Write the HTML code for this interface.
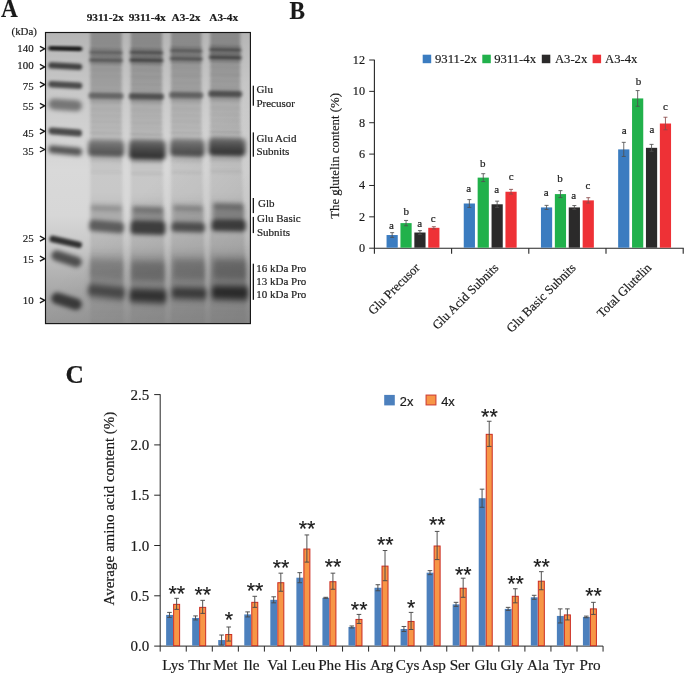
<!DOCTYPE html>
<html lang="en"><head><meta charset="utf-8"><title>Figure</title>
<style>html,body{margin:0;padding:0;background:#fff;}svg{display:block;}text{font-family:"Liberation Serif",serif;fill:#1a1a1a;stroke:#1a1a1a;stroke-width:0.18px;}.sans{font-family:"Liberation Sans",sans-serif;}</style>
</head><body>
<svg width="685" height="675" viewBox="0 0 685 675">
<rect width="685" height="675" fill="#fff"/>
<defs>
<clipPath id="gc"><rect x="45.0" y="32.0" width="205.9" height="292.1"/></clipPath>
<filter id="f1" filterUnits="userSpaceOnUse" x="20" y="10" width="260" height="340"><feGaussianBlur stdDeviation="1.6 1.0"/></filter>
<filter id="f2" filterUnits="userSpaceOnUse" x="20" y="10" width="260" height="340"><feGaussianBlur stdDeviation="1.8 1.4"/></filter>
<filter id="f3" filterUnits="userSpaceOnUse" x="20" y="10" width="260" height="340"><feGaussianBlur stdDeviation="2.0 2.2"/></filter>
<filter id="f4" filterUnits="userSpaceOnUse" x="20" y="10" width="260" height="340"><feGaussianBlur stdDeviation="2.4 3.0"/></filter>
<filter id="fl" filterUnits="userSpaceOnUse" x="20" y="10" width="260" height="340"><feGaussianBlur stdDeviation="1.7 3.0"/></filter>
<linearGradient id="bgv" gradientUnits="userSpaceOnUse" x1="0" y1="32.0" x2="0" y2="324.1">
<stop offset="0.0000" stop-color="#b5b5b5"/>
<stop offset="0.0959" stop-color="#bfbfbf"/>
<stop offset="0.2670" stop-color="#cdcdcd"/>
<stop offset="0.4724" stop-color="#d9d9d9"/>
<stop offset="0.6265" stop-color="#d7d7d7"/>
<stop offset="0.7292" stop-color="#c9c9c9"/>
<stop offset="0.8148" stop-color="#b5b5b5"/>
<stop offset="0.9175" stop-color="#a3a3a3"/>
<stop offset="0.9997" stop-color="#999999"/>
</linearGradient>
<linearGradient id="lg" gradientUnits="userSpaceOnUse" x1="0" y1="32.0" x2="0" y2="324.1">
<stop offset="0.0000" stop-color="#000" stop-opacity="0.24"/>
<stop offset="0.0514" stop-color="#000" stop-opacity="0.27"/>
<stop offset="0.1096" stop-color="#000" stop-opacity="0.22"/>
<stop offset="0.1986" stop-color="#000" stop-opacity="0.2"/>
<stop offset="0.2328" stop-color="#000" stop-opacity="0.15"/>
<stop offset="0.3423" stop-color="#000" stop-opacity="0.13"/>
<stop offset="0.3595" stop-color="#000" stop-opacity="0.1"/>
<stop offset="0.4382" stop-color="#000" stop-opacity="0.1"/>
<stop offset="0.4896" stop-color="#000" stop-opacity="0.08"/>
<stop offset="0.5615" stop-color="#000" stop-opacity="0.08"/>
<stop offset="0.5888" stop-color="#000" stop-opacity="0.13"/>
<stop offset="0.6984" stop-color="#000" stop-opacity="0.1"/>
<stop offset="0.7463" stop-color="#000" stop-opacity="0.1"/>
<stop offset="0.7737" stop-color="#000" stop-opacity="0.18"/>
<stop offset="0.8559" stop-color="#000" stop-opacity="0.18"/>
<stop offset="0.9038" stop-color="#000" stop-opacity="0.12"/>
<stop offset="0.9380" stop-color="#000" stop-opacity="0.06"/>
<stop offset="0.9997" stop-color="#000" stop-opacity="0.04"/>
</linearGradient>
<linearGradient id="ag" x1="0" y1="0" x2="0" y2="1"><stop offset="0" stop-color="#000" stop-opacity=".50"/><stop offset=".45" stop-color="#000" stop-opacity=".78"/><stop offset="1" stop-color="#000" stop-opacity="1"/></linearGradient>
<linearGradient id="dg" gradientUnits="userSpaceOnUse" x1="120" y1="215" x2="235" y2="324"><stop offset="0" stop-color="#000" stop-opacity="0"/><stop offset="1" stop-color="#000" stop-opacity=".13"/></linearGradient>
</defs>
<g clip-path="url(#gc)">
<rect x="45.0" y="32.0" width="205.9" height="292.1" fill="url(#bgv)"/>
<rect x="45.0" y="32.0" width="205.9" height="292.1" fill="url(#dg)"/>
<g filter="url(#fl)">
<path d="M90.3,22.0 L121.7,22.0 L121.7,120 L123.5,292 L123.5,334.1 L90.3,334.1 Z" fill="url(#lg)" opacity="0.94"/>
<path d="M130.7,22.0 L162.1,22.0 L162.1,120 L164.9,292 L164.9,334.1 L130.7,334.1 Z" fill="url(#lg)" opacity="1.00"/>
<path d="M171.0,22.0 L201.4,22.0 L201.4,120 L205.1,292 L205.1,334.1 L171.0,334.1 Z" fill="url(#lg)" opacity="0.97"/>
<path d="M210.2,22.0 L240.3,22.0 L240.3,120 L246.3,292 L246.3,334.1 L210.2,334.1 Z" fill="url(#lg)" opacity="1.00"/>
</g>
<g filter="url(#f1)">
<rect x="89.5" y="48.1" width="33.0" height="1.3" rx="0.7" fill="#000" opacity="0.13" transform="rotate(1.04 106.0 48.8)"/>
<rect x="129.9" y="48.1" width="33.0" height="1.3" rx="0.7" fill="#000" opacity="0.17" transform="rotate(1.04 146.4 48.8)"/>
<rect x="170.2" y="46.4" width="32.0" height="1.3" rx="0.7" fill="#000" opacity="0.14" transform="rotate(1.07 186.2 47.0)"/>
<rect x="209.4" y="45.4" width="31.7" height="1.3" rx="0.7" fill="#000" opacity="0.17" transform="rotate(1.08 225.2 46.0)"/>
<rect x="89.3" y="55.6" width="33.4" height="1.5" rx="0.8" fill="#000" opacity="0.21" transform="rotate(1.03 106.0 56.4)"/>
<rect x="129.7" y="55.7" width="33.4" height="1.5" rx="0.8" fill="#000" opacity="0.28" transform="rotate(1.03 146.4 56.5)"/>
<rect x="170.0" y="54.0" width="32.4" height="1.5" rx="0.8" fill="#000" opacity="0.23" transform="rotate(1.06 186.2 54.8)"/>
<rect x="209.2" y="53.0" width="32.1" height="1.5" rx="0.8" fill="#000" opacity="0.28" transform="rotate(1.07 225.2 53.7)"/>
<rect x="89.5" y="63.5" width="33.0" height="1.5" rx="0.8" fill="#000" opacity="0.12" transform="rotate(1.04 106.0 64.2)"/>
<rect x="129.9" y="63.6" width="33.0" height="1.5" rx="0.8" fill="#000" opacity="0.16" transform="rotate(1.04 146.4 64.4)"/>
<rect x="170.2" y="62.0" width="32.0" height="1.5" rx="0.8" fill="#000" opacity="0.13" transform="rotate(1.07 186.2 62.8)"/>
<rect x="209.4" y="60.9" width="31.7" height="1.5" rx="0.8" fill="#000" opacity="0.16" transform="rotate(1.08 225.2 61.7)"/>
<rect x="89.5" y="132.4" width="33.1" height="1.8" rx="0.9" fill="#000" opacity="0.08" transform="rotate(1.04 106.1 133.3)"/>
<rect x="129.9" y="133.4" width="33.2" height="1.8" rx="0.9" fill="#000" opacity="0.10" transform="rotate(1.03 146.5 134.3)"/>
<rect x="170.2" y="132.2" width="32.3" height="1.8" rx="0.9" fill="#000" opacity="0.08" transform="rotate(1.06 186.3 133.1)"/>
<rect x="209.4" y="131.3" width="32.2" height="1.8" rx="0.9" fill="#000" opacity="0.10" transform="rotate(1.07 225.5 132.2)"/>
</g>
<g filter="url(#f2)">
<rect x="88.9" y="50.7" width="34.2" height="3.8" rx="1.9" fill="#000" opacity="0.36" transform="rotate(1.01 106.0 52.6)"/>
<rect x="129.3" y="50.7" width="34.2" height="3.8" rx="1.9" fill="#000" opacity="0.48" transform="rotate(1.01 146.4 52.6)"/>
<rect x="169.6" y="49.0" width="33.2" height="3.8" rx="1.9" fill="#000" opacity="0.39" transform="rotate(1.04 186.2 50.9)"/>
<rect x="208.8" y="48.0" width="32.9" height="3.8" rx="1.9" fill="#000" opacity="0.47" transform="rotate(1.04 225.2 49.9)"/>
<rect x="88.7" y="58.2" width="34.6" height="4.0" rx="2.0" fill="#000" opacity="0.43" transform="rotate(0.99 106.0 60.2)"/>
<rect x="129.1" y="58.3" width="34.6" height="4.0" rx="2.0" fill="#000" opacity="0.57" transform="rotate(0.99 146.4 60.3)"/>
<rect x="169.4" y="56.7" width="33.6" height="4.0" rx="2.0" fill="#000" opacity="0.46" transform="rotate(1.02 186.2 58.7)"/>
<rect x="208.6" y="55.6" width="33.3" height="4.0" rx="2.0" fill="#000" opacity="0.56" transform="rotate(1.03 225.2 57.6)"/>
<rect x="89.8" y="69.2" width="32.4" height="1.6" rx="0.8" fill="#000" opacity="0.03" transform="rotate(1.06 106.0 70.0)"/>
<rect x="130.2" y="69.5" width="32.4" height="1.6" rx="0.8" fill="#000" opacity="0.04" transform="rotate(1.06 146.4 70.3)"/>
<rect x="170.5" y="67.9" width="31.4" height="1.6" rx="0.8" fill="#000" opacity="0.03" transform="rotate(1.09 186.2 68.7)"/>
<rect x="209.7" y="66.8" width="31.1" height="1.6" rx="0.8" fill="#000" opacity="0.04" transform="rotate(1.11 225.2 67.6)"/>
<rect x="89.8" y="76.1" width="32.4" height="1.8" rx="0.9" fill="#000" opacity="0.04" transform="rotate(1.06 106.0 77.0)"/>
<rect x="130.2" y="76.5" width="32.4" height="1.8" rx="0.9" fill="#000" opacity="0.06" transform="rotate(1.06 146.4 77.4)"/>
<rect x="170.5" y="75.0" width="31.4" height="1.8" rx="0.9" fill="#000" opacity="0.05" transform="rotate(1.09 186.2 75.9)"/>
<rect x="209.7" y="73.8" width="31.1" height="1.8" rx="0.9" fill="#000" opacity="0.06" transform="rotate(1.11 225.2 74.7)"/>
<rect x="89.8" y="83.1" width="32.4" height="1.8" rx="0.9" fill="#000" opacity="0.03" transform="rotate(1.06 106.0 84.0)"/>
<rect x="130.2" y="83.5" width="32.4" height="1.8" rx="0.9" fill="#000" opacity="0.05" transform="rotate(1.06 146.4 84.4)"/>
<rect x="170.5" y="82.2" width="31.4" height="1.8" rx="0.9" fill="#000" opacity="0.04" transform="rotate(1.09 186.2 83.1)"/>
<rect x="209.7" y="81.0" width="31.1" height="1.8" rx="0.9" fill="#000" opacity="0.04" transform="rotate(1.11 225.2 81.9)"/>
<rect x="89.8" y="88.6" width="32.4" height="1.8" rx="0.9" fill="#000" opacity="0.04" transform="rotate(1.06 106.0 89.5)"/>
<rect x="130.2" y="89.1" width="32.4" height="1.8" rx="0.9" fill="#000" opacity="0.06" transform="rotate(1.06 146.4 90.0)"/>
<rect x="170.5" y="87.8" width="31.4" height="1.8" rx="0.9" fill="#000" opacity="0.05" transform="rotate(1.09 186.2 88.7)"/>
<rect x="209.7" y="86.6" width="31.1" height="1.8" rx="0.9" fill="#000" opacity="0.06" transform="rotate(1.11 225.2 87.5)"/>
<rect x="88.3" y="92.7" width="35.4" height="6.4" rx="2.5" fill="#000" opacity="0.40" transform="rotate(0.97 106.0 95.9)"/>
<rect x="128.7" y="93.3" width="35.4" height="6.4" rx="2.5" fill="#000" opacity="0.52" transform="rotate(0.97 146.4 96.5)"/>
<rect x="169.0" y="92.1" width="34.4" height="6.4" rx="2.5" fill="#000" opacity="0.42" transform="rotate(1.00 186.2 95.3)"/>
<rect x="208.2" y="90.8" width="34.1" height="6.4" rx="2.5" fill="#000" opacity="0.52" transform="rotate(1.01 225.2 94.0)"/>
<rect x="89.5" y="100.2" width="33.0" height="2.5" rx="1.2" fill="#000" opacity="0.10" transform="rotate(1.04 106.0 101.5)"/>
<rect x="129.9" y="100.9" width="33.0" height="2.5" rx="1.2" fill="#000" opacity="0.14" transform="rotate(1.04 146.4 102.2)"/>
<rect x="170.2" y="99.7" width="32.0" height="2.5" rx="1.2" fill="#000" opacity="0.11" transform="rotate(1.07 186.2 101.0)"/>
<rect x="209.4" y="98.5" width="31.7" height="2.5" rx="1.2" fill="#000" opacity="0.13" transform="rotate(1.08 225.2 99.7)"/>
<rect x="89.8" y="109.1" width="32.4" height="1.8" rx="0.9" fill="#000" opacity="0.03" transform="rotate(1.06 106.0 110.0)"/>
<rect x="130.2" y="109.9" width="32.4" height="1.8" rx="0.9" fill="#000" opacity="0.04" transform="rotate(1.06 146.4 110.8)"/>
<rect x="170.5" y="108.7" width="31.4" height="1.8" rx="0.9" fill="#000" opacity="0.03" transform="rotate(1.09 186.2 109.6)"/>
<rect x="209.7" y="107.5" width="31.1" height="1.8" rx="0.9" fill="#000" opacity="0.04" transform="rotate(1.11 225.2 108.4)"/>
<rect x="89.8" y="115.1" width="32.4" height="1.8" rx="0.9" fill="#000" opacity="0.03" transform="rotate(1.06 106.0 116.0)"/>
<rect x="130.2" y="115.9" width="32.4" height="1.8" rx="0.9" fill="#000" opacity="0.04" transform="rotate(1.06 146.4 116.8)"/>
<rect x="170.5" y="114.7" width="31.4" height="1.8" rx="0.9" fill="#000" opacity="0.03" transform="rotate(1.09 186.2 115.6)"/>
<rect x="209.7" y="113.6" width="31.1" height="1.8" rx="0.9" fill="#000" opacity="0.04" transform="rotate(1.11 225.2 114.5)"/>
<rect x="89.8" y="121.1" width="32.4" height="1.8" rx="0.9" fill="#000" opacity="0.03" transform="rotate(1.06 106.0 122.0)"/>
<rect x="130.2" y="122.0" width="32.4" height="1.8" rx="0.9" fill="#000" opacity="0.05" transform="rotate(1.06 146.4 122.9)"/>
<rect x="170.5" y="120.8" width="31.4" height="1.8" rx="0.9" fill="#000" opacity="0.04" transform="rotate(1.09 186.2 121.7)"/>
<rect x="209.7" y="119.8" width="31.2" height="1.8" rx="0.9" fill="#000" opacity="0.04" transform="rotate(1.10 225.3 120.7)"/>
<rect x="89.8" y="127.1" width="32.5" height="1.8" rx="0.9" fill="#000" opacity="0.03" transform="rotate(1.06 106.0 128.0)"/>
<rect x="130.2" y="128.1" width="32.5" height="1.8" rx="0.9" fill="#000" opacity="0.04" transform="rotate(1.06 146.5 129.0)"/>
<rect x="170.5" y="126.9" width="31.6" height="1.8" rx="0.9" fill="#000" opacity="0.03" transform="rotate(1.09 186.3 127.8)"/>
<rect x="209.7" y="125.9" width="31.4" height="1.8" rx="0.9" fill="#000" opacity="0.04" transform="rotate(1.10 225.4 126.8)"/>
<rect x="90.0" y="159.8" width="32.4" height="1.6" rx="0.8" fill="#000" opacity="0.10" transform="rotate(1.06 106.2 160.6)"/>
<rect x="130.4" y="161.1" width="32.7" height="1.6" rx="0.8" fill="#000" opacity="0.14" transform="rotate(1.05 146.7 161.9)"/>
<rect x="170.7" y="160.0" width="31.9" height="1.6" rx="0.8" fill="#000" opacity="0.11" transform="rotate(1.08 186.6 160.8)"/>
<rect x="209.9" y="159.1" width="32.1" height="1.6" rx="0.8" fill="#000" opacity="0.13" transform="rotate(1.07 226.0 159.9)"/>
<rect x="90.3" y="170.8" width="31.9" height="2.5" rx="1.2" fill="#000" opacity="0.04" transform="rotate(1.08 106.3 172.0)"/>
<rect x="130.7" y="172.2" width="32.2" height="2.5" rx="1.2" fill="#000" opacity="0.06" transform="rotate(1.07 146.8 173.5)"/>
<rect x="171.0" y="171.2" width="31.5" height="2.5" rx="1.2" fill="#000" opacity="0.05" transform="rotate(1.09 186.8 172.4)"/>
<rect x="210.2" y="170.2" width="31.9" height="2.5" rx="1.2" fill="#000" opacity="0.06" transform="rotate(1.08 226.2 171.5)"/>
</g>
<g filter="url(#f3)">
<rect x="87.8" y="139.5" width="36.7" height="17.1" rx="4.5" fill="url(#ag)" opacity="0.60" transform="rotate(1.25 106.2 148.1)"/>
<rect x="128.9" y="139.5" width="37.0" height="20.2" rx="4.5" fill="url(#ag)" opacity="0.78" transform="rotate(1.24 147.4 149.6)"/>
<rect x="170.1" y="138.8" width="34.8" height="17.8" rx="4.5" fill="url(#ag)" opacity="0.64" transform="rotate(1.32 187.5 147.7)"/>
<rect x="208.6" y="137.6" width="37.1" height="18.4" rx="4.5" fill="url(#ag)" opacity="0.76" transform="rotate(1.24 227.2 146.8)"/>
<rect x="90.5" y="205.1" width="31.7" height="5.2" rx="2.5" fill="#000" opacity="0.22" transform="rotate(1.45 106.3 207.7)"/>
<rect x="90.5" y="208.7" width="32.2" height="13.7" rx="2.5" fill="#000" opacity="0.10" transform="rotate(1.42 106.6 215.6)"/>
<rect x="89.0" y="221.1" width="35.2" height="11.0" rx="4.0" fill="#000" opacity="0.50" transform="rotate(4.87 106.6 226.6)"/>
<rect x="132.0" y="206.4" width="31.6" height="5.2" rx="2.5" fill="#000" opacity="0.34" transform="rotate(1.45 147.8 209.0)"/>
<rect x="132.0" y="210.0" width="32.1" height="12.4" rx="2.5" fill="#000" opacity="0.26" transform="rotate(1.43 148.1 216.2)"/>
<rect x="130.5" y="221.1" width="35.1" height="13.5" rx="4.0" fill="#000" opacity="0.66" transform="rotate(1.63 148.1 227.9)"/>
<rect x="172.8" y="205.1" width="30.4" height="5.2" rx="2.5" fill="#000" opacity="0.26" transform="rotate(1.51 188.0 207.7)"/>
<rect x="172.8" y="208.7" width="30.9" height="15.0" rx="2.5" fill="#000" opacity="0.14" transform="rotate(1.48 188.2 216.2)"/>
<rect x="171.3" y="222.4" width="33.9" height="9.7" rx="4.0" fill="#000" opacity="0.56" transform="rotate(1.35 188.2 227.2)"/>
<rect x="213.0" y="203.2" width="31.0" height="5.2" rx="2.5" fill="#000" opacity="0.36" transform="rotate(1.48 228.5 205.8)"/>
<rect x="213.0" y="206.8" width="31.5" height="14.4" rx="2.5" fill="#000" opacity="0.28" transform="rotate(1.45 228.8 214.0)"/>
<rect x="211.5" y="219.9" width="34.5" height="11.4" rx="4.0" fill="#000" opacity="0.66" transform="rotate(0.83 228.8 225.6)"/>
</g>
<g filter="url(#f4)">
<rect x="89.0" y="259.5" width="34.6" height="20.0" rx="3.0" fill="#000" opacity="0.16" transform="rotate(3.31 106.3 269.5)"/>
<rect x="87.5" y="285.5" width="37.6" height="12.2" rx="4.0" fill="#000" opacity="0.50" transform="rotate(6.07 106.3 291.6)"/>
<rect x="131.0" y="261.0" width="34.0" height="20.0" rx="3.0" fill="#000" opacity="0.24" transform="rotate(1.26 148.0 271.0)"/>
<rect x="129.5" y="289.0" width="37.0" height="13.7" rx="4.0" fill="#000" opacity="0.64" transform="rotate(2.32 148.0 295.9)"/>
<rect x="173.1" y="259.5" width="32.1" height="20.0" rx="3.0" fill="#000" opacity="0.20" transform="rotate(0.89 189.2 269.5)"/>
<rect x="171.6" y="287.7" width="35.1" height="11.2" rx="4.0" fill="#000" opacity="0.58" transform="rotate(1.63 189.2 293.3)"/>
<rect x="213.2" y="259.5" width="33.5" height="20.0" rx="3.0" fill="#000" opacity="0.26" transform="rotate(0.68 229.9 269.5)"/>
<rect x="211.7" y="285.8" width="36.5" height="13.8" rx="4.0" fill="#000" opacity="0.68" transform="rotate(1.26 229.9 292.7)"/>
</g>
<g filter="url(#f1)">
<rect transform="translate(48.3,48.2) rotate(1.18)" x="0" y="-2.30" width="34.0" height="4.6" rx="2.3" fill="#000" opacity="0.84"/>
</g>
<g filter="url(#f2)">
<rect transform="translate(48.3,65.2) rotate(3.03)" x="0" y="-3.20" width="34.0" height="6.4" rx="3.2" fill="#000" opacity="0.66"/>
<rect transform="translate(48.3,84.0) rotate(3.37)" x="0" y="-3.20" width="34.1" height="6.4" rx="3.2" fill="#000" opacity="0.62"/>
<rect transform="translate(48.5,130.6) rotate(4.78)" x="0" y="-3.50" width="33.6" height="7.0" rx="3.5" fill="#000" opacity="0.64"/>
<rect transform="translate(49.5,238.2) rotate(12.83)" x="0" y="-3.30" width="33.3" height="6.6" rx="3.3" fill="#000" opacity="0.76"/>
</g>
<g filter="url(#f3)">
<rect transform="translate(48.5,103.8) rotate(4.10)" x="0" y="-5.50" width="33.6" height="11" rx="5.5" fill="#000" opacity="0.42"/>
<rect transform="translate(48.5,149.0) rotate(5.46)" x="0" y="-4.00" width="33.7" height="8.0" rx="4.0" fill="#000" opacity="0.6"/>
<rect transform="translate(51.5,254.0) rotate(17.57)" x="0" y="-5.25" width="31.5" height="10.5" rx="5.2" fill="#000" opacity="0.58"/>
<rect transform="translate(51.5,296.5) rotate(17.57)" x="0" y="-5.75" width="31.5" height="11.5" rx="5.8" fill="#000" opacity="0.64"/>
</g>
</g>
<rect x="45.5" y="32.5" width="204.9" height="291.1" fill="none" stroke="#161616" stroke-width="1.15"/>
<text transform="translate(0.9,17.0) scale(0.945,1)" font-size="24.6" font-weight="bold" stroke="none" fill="#222">A</text>
<text transform="translate(289.4,18.6) scale(0.915,1)" font-size="25.4" font-weight="bold" stroke="none" fill="#222">B</text>
<text transform="translate(65.6,382.8) scale(1.0,1)" font-size="25.4" font-weight="bold" stroke="none" fill="#222">C</text>
<text x="105.2" y="20.9" font-size="11.3" font-weight="bold" text-anchor="middle" stroke="none">9311-2x</text>
<text x="147.2" y="20.9" font-size="11.3" font-weight="bold" text-anchor="middle" stroke="none">9311-4x</text>
<text x="186.0" y="20.9" font-size="11.3" font-weight="bold" text-anchor="middle" stroke="none">A3-2x</text>
<text x="223.7" y="20.9" font-size="11.3" font-weight="bold" text-anchor="middle" stroke="none">A3-4x</text>
<text x="11.5" y="35.2" font-size="10.9">(kDa)</text>
<text x="33.7" y="52.3" font-size="10.9" text-anchor="end">140</text>
<path d="M39.9,46.3 L44.7,48.8 L39.9,51.3" fill="none" stroke="#1a1a1a" stroke-width="1.35" stroke-linejoin="miter"/>
<text x="33.7" y="69" font-size="10.9" text-anchor="end">100</text>
<path d="M39.9,64.4 L44.7,66.9 L39.9,69.4" fill="none" stroke="#1a1a1a" stroke-width="1.35" stroke-linejoin="miter"/>
<text x="33.7" y="89.6" font-size="10.9" text-anchor="end">75</text>
<path d="M39.9,82.1 L44.7,84.6 L39.9,87.1" fill="none" stroke="#1a1a1a" stroke-width="1.35" stroke-linejoin="miter"/>
<text x="33.7" y="109.6" font-size="10.9" text-anchor="end">55</text>
<path d="M39.9,103.3 L44.7,105.8 L39.9,108.3" fill="none" stroke="#1a1a1a" stroke-width="1.35" stroke-linejoin="miter"/>
<text x="33.7" y="136.7" font-size="10.9" text-anchor="end">45</text>
<path d="M39.9,128.8 L44.7,131.3 L39.9,133.8" fill="none" stroke="#1a1a1a" stroke-width="1.35" stroke-linejoin="miter"/>
<text x="33.7" y="154.7" font-size="10.9" text-anchor="end">35</text>
<path d="M39.9,147.0 L44.7,149.5 L39.9,152.0" fill="none" stroke="#1a1a1a" stroke-width="1.35" stroke-linejoin="miter"/>
<text x="33.7" y="242.1" font-size="10.9" text-anchor="end">25</text>
<path d="M39.9,236.2 L44.7,238.7 L39.9,241.2" fill="none" stroke="#1a1a1a" stroke-width="1.35" stroke-linejoin="miter"/>
<text x="33.7" y="263.4" font-size="10.9" text-anchor="end">15</text>
<path d="M39.9,256.2 L44.7,258.7 L39.9,261.2" fill="none" stroke="#1a1a1a" stroke-width="1.35" stroke-linejoin="miter"/>
<text x="33.7" y="304.3" font-size="10.9" text-anchor="end">10</text>
<path d="M39.9,297.8 L44.7,300.3 L39.9,302.8" fill="none" stroke="#1a1a1a" stroke-width="1.35" stroke-linejoin="miter"/>
<rect x="252.7" y="85.7" width="1.3" height="20.0" fill="#1a1a1a"/>
<rect x="252.7" y="132.4" width="1.3" height="24.299999999999983" fill="#1a1a1a"/>
<rect x="252.7" y="198" width="1.3" height="15.099999999999994" fill="#1a1a1a"/>
<rect x="252.7" y="216.9" width="1.3" height="16.19999999999999" fill="#1a1a1a"/>
<rect x="252.7" y="263.7" width="1.3" height="36.10000000000002" fill="#1a1a1a"/>
<text x="256.4" y="93.3" font-size="11">Glu</text>
<text x="256.4" y="106.7" font-size="11">Precusor</text>
<text x="256.4" y="141.6" font-size="11">Glu Acid</text>
<text x="256.4" y="154.9" font-size="11">Subnits</text>
<text x="258" y="207.2" font-size="11">Glb</text>
<text x="257" y="222.4" font-size="11">Glu Basic</text>
<text x="257" y="235.6" font-size="11">Subnits</text>
<text x="256.2" y="272" font-size="11">16 kDa Pro</text>
<text x="256.2" y="285.4" font-size="11">13 kDa Pro</text>
<text x="256.2" y="298.3" font-size="11">10 kDa Pro</text>
<path d="M374.4,59.7 V248.2 H683.75" fill="none" stroke="#262626" stroke-width="1.1"/>
<path d="M369.2,248.20 H374.4" stroke="#262626" stroke-width="1"/>
<text x="365.0" y="252.20" font-size="12.2" text-anchor="end">0</text>
<path d="M369.2,216.83 H374.4" stroke="#262626" stroke-width="1"/>
<text x="365.0" y="220.83" font-size="12.2" text-anchor="end">2</text>
<path d="M369.2,185.47 H374.4" stroke="#262626" stroke-width="1"/>
<text x="365.0" y="189.47" font-size="12.2" text-anchor="end">4</text>
<path d="M369.2,154.10 H374.4" stroke="#262626" stroke-width="1"/>
<text x="365.0" y="158.10" font-size="12.2" text-anchor="end">6</text>
<path d="M369.2,122.73 H374.4" stroke="#262626" stroke-width="1"/>
<text x="365.0" y="126.73" font-size="12.2" text-anchor="end">8</text>
<path d="M369.2,91.37 H374.4" stroke="#262626" stroke-width="1"/>
<text x="365.0" y="95.37" font-size="12.2" text-anchor="end">10</text>
<path d="M369.2,60.00 H374.4" stroke="#262626" stroke-width="1"/>
<text x="365.0" y="64.00" font-size="12.2" text-anchor="end">12</text>
<path d="M374.40,248.2 V253.7" stroke="#262626" stroke-width="1.1"/>
<path d="M451.60,248.2 V253.7" stroke="#262626" stroke-width="1.1"/>
<path d="M528.80,248.2 V253.7" stroke="#262626" stroke-width="1.1"/>
<path d="M606.00,248.2 V253.7" stroke="#262626" stroke-width="1.1"/>
<path d="M683.20,248.2 V253.7" stroke="#262626" stroke-width="1.1"/>
<rect x="386.55" y="235.03" width="11.2" height="12.67" fill="#3b7cc0"/>
<path d="M392.15,232.67 V237.38 M390.15,232.67 h4 M390.15,237.38 h4" stroke="#505050" stroke-width="0.85" fill="none"/>
<text x="391.5" y="229.3" font-size="11" text-anchor="middle">a</text>
<rect x="400.45" y="223.11" width="11.2" height="24.59" fill="#21b14b"/>
<path d="M406.05,220.44 V225.77 M404.05,220.44 h4 M404.05,225.77 h4" stroke="#505050" stroke-width="0.85" fill="none"/>
<text x="406.3" y="214.7" font-size="11" text-anchor="middle">b</text>
<rect x="414.35" y="232.52" width="11.2" height="15.18" fill="#2b2a2a"/>
<path d="M419.95,230.63 V234.40 M417.95,230.63 h4 M417.95,234.40 h4" stroke="#505050" stroke-width="0.85" fill="none"/>
<text x="419.7" y="227.3" font-size="11" text-anchor="middle">a</text>
<rect x="428.25" y="227.81" width="11.2" height="19.89" fill="#ee3136"/>
<path d="M433.85,226.71 V228.91 M431.85,226.71 h4 M431.85,228.91 h4" stroke="#8a4a4a" stroke-width="0.85" fill="none"/>
<text x="433.3" y="221.8" font-size="11" text-anchor="middle">c</text>
<rect x="463.75" y="203.50" width="11.2" height="44.20" fill="#3b7cc0"/>
<path d="M469.35,199.58 V207.42 M467.35,199.58 h4 M467.35,207.42 h4" stroke="#505050" stroke-width="0.85" fill="none"/>
<text x="468.8" y="192.3" font-size="11" text-anchor="middle">a</text>
<rect x="477.65" y="177.62" width="11.2" height="70.07" fill="#21b14b"/>
<path d="M483.25,173.70 V181.55 M481.25,173.70 h4 M481.25,181.55 h4" stroke="#505050" stroke-width="0.85" fill="none"/>
<text x="482.7" y="167.1" font-size="11" text-anchor="middle">b</text>
<rect x="491.55" y="204.29" width="11.2" height="43.41" fill="#2b2a2a"/>
<path d="M497.15,201.15 V207.42 M495.15,201.15 h4 M495.15,207.42 h4" stroke="#505050" stroke-width="0.85" fill="none"/>
<text x="496.8" y="193.3" font-size="11" text-anchor="middle">a</text>
<rect x="505.45" y="191.74" width="11.2" height="55.96" fill="#ee3136"/>
<path d="M511.05,189.39 V194.09 M509.05,189.39 h4 M509.05,194.09 h4" stroke="#8a4a4a" stroke-width="0.85" fill="none"/>
<text x="511.1" y="179.7" font-size="11" text-anchor="middle">c</text>
<rect x="540.95" y="207.42" width="11.2" height="40.28" fill="#3b7cc0"/>
<path d="M546.55,205.38 V209.46 M544.55,205.38 h4 M544.55,209.46 h4" stroke="#505050" stroke-width="0.85" fill="none"/>
<text x="546.1" y="196.3" font-size="11" text-anchor="middle">a</text>
<rect x="554.85" y="194.09" width="11.2" height="53.61" fill="#21b14b"/>
<path d="M560.45,190.64 V197.54 M558.45,190.64 h4 M558.45,197.54 h4" stroke="#505050" stroke-width="0.85" fill="none"/>
<text x="560.0" y="182.1" font-size="11" text-anchor="middle">b</text>
<rect x="568.75" y="207.42" width="11.2" height="40.28" fill="#2b2a2a"/>
<path d="M574.35,205.54 V209.31 M572.35,205.54 h4 M572.35,209.31 h4" stroke="#505050" stroke-width="0.85" fill="none"/>
<text x="573.6" y="198.7" font-size="11" text-anchor="middle">a</text>
<rect x="582.65" y="200.37" width="11.2" height="47.33" fill="#ee3136"/>
<path d="M588.25,197.70 V203.03 M586.25,197.70 h4 M586.25,203.03 h4" stroke="#8a4a4a" stroke-width="0.85" fill="none"/>
<text x="587.9" y="188.9" font-size="11" text-anchor="middle">c</text>
<rect x="618.15" y="149.39" width="11.2" height="98.31" fill="#3b7cc0"/>
<path d="M623.75,142.34 V156.45 M621.75,142.34 h4 M621.75,156.45 h4" stroke="#505050" stroke-width="0.85" fill="none"/>
<text x="624.3" y="134.1" font-size="11" text-anchor="middle">a</text>
<rect x="632.05" y="98.42" width="11.2" height="149.28" fill="#21b14b"/>
<path d="M637.65,90.58 V106.27 M635.65,90.58 h4 M635.65,106.27 h4" stroke="#505050" stroke-width="0.85" fill="none"/>
<text x="638.5" y="84.6" font-size="11" text-anchor="middle">b</text>
<rect x="645.95" y="147.83" width="11.2" height="99.87" fill="#2b2a2a"/>
<path d="M651.55,144.38 V151.28 M649.55,144.38 h4 M649.55,151.28 h4" stroke="#505050" stroke-width="0.85" fill="none"/>
<text x="651.9" y="133.2" font-size="11" text-anchor="middle">a</text>
<rect x="659.85" y="123.52" width="11.2" height="124.18" fill="#ee3136"/>
<path d="M665.45,117.24 V129.79 M663.45,117.24 h4 M663.45,129.79 h4" stroke="#8a4a4a" stroke-width="0.85" fill="none"/>
<text x="665.5" y="110.4" font-size="11" text-anchor="middle">c</text>
<rect x="422.7" y="54.7" width="8.5" height="8.5" fill="#3b7cc0"/>
<text x="435.0" y="62.8" font-size="12.7">9311-2x</text>
<rect x="482.3" y="54.7" width="8.5" height="8.5" fill="#21b14b"/>
<text x="494.2" y="62.8" font-size="12.7">9311-4x</text>
<rect x="541.8" y="54.7" width="8.5" height="8.5" fill="#2b2a2a"/>
<text x="554.9000000000001" y="62.8" font-size="12.7">A3-2x</text>
<rect x="592.6" y="54.7" width="8.5" height="8.5" fill="#ee3136"/>
<text x="605.0" y="62.8" font-size="12.7">A3-4x</text>
<text transform="translate(339.4,155.9) rotate(-90)" font-size="12.85" text-anchor="middle">The glutelin content (%)</text>
<text transform="translate(420.40,268.4) rotate(-45)" font-size="12.7" text-anchor="end">Glu Precusor</text>
<text transform="translate(499.20,268.4) rotate(-45)" font-size="12.7" text-anchor="end">Glu Acid Subnits</text>
<text transform="translate(576.40,268.4) rotate(-45)" font-size="12.7" text-anchor="end">Glu Basic Subnits</text>
<text transform="translate(651.90,268.4) rotate(-45)" font-size="12.7" text-anchor="end">Total Glutelin</text>
<path d="M160.2,394.30 V646.1 H603.05" fill="none" stroke="#262626" stroke-width="1"/>
<path d="M154.2,646.10 H160.2" stroke="#262626" stroke-width="1"/>
<text x="149.2" y="651.10" font-size="15" text-anchor="end">0.0</text>
<path d="M154.2,595.80 H160.2" stroke="#262626" stroke-width="1"/>
<text x="149.2" y="600.80" font-size="15" text-anchor="end">0.5</text>
<path d="M154.2,545.50 H160.2" stroke="#262626" stroke-width="1"/>
<text x="149.2" y="550.50" font-size="15" text-anchor="end">1.0</text>
<path d="M154.2,495.20 H160.2" stroke="#262626" stroke-width="1"/>
<text x="149.2" y="500.20" font-size="15" text-anchor="end">1.5</text>
<path d="M154.2,444.90 H160.2" stroke="#262626" stroke-width="1"/>
<text x="149.2" y="449.90" font-size="15" text-anchor="end">2.0</text>
<path d="M154.2,394.60 H160.2" stroke="#262626" stroke-width="1"/>
<text x="149.2" y="399.60" font-size="15" text-anchor="end">2.5</text>
<path d="M160.20,646.1 V651.6" stroke="#262626" stroke-width="1"/>
<path d="M186.25,646.1 V651.6" stroke="#262626" stroke-width="1"/>
<path d="M212.30,646.1 V651.6" stroke="#262626" stroke-width="1"/>
<path d="M238.35,646.1 V651.6" stroke="#262626" stroke-width="1"/>
<path d="M264.40,646.1 V651.6" stroke="#262626" stroke-width="1"/>
<path d="M290.45,646.1 V651.6" stroke="#262626" stroke-width="1"/>
<path d="M316.50,646.1 V651.6" stroke="#262626" stroke-width="1"/>
<path d="M342.55,646.1 V651.6" stroke="#262626" stroke-width="1"/>
<path d="M368.60,646.1 V651.6" stroke="#262626" stroke-width="1"/>
<path d="M394.65,646.1 V651.6" stroke="#262626" stroke-width="1"/>
<path d="M420.70,646.1 V651.6" stroke="#262626" stroke-width="1"/>
<path d="M446.75,646.1 V651.6" stroke="#262626" stroke-width="1"/>
<path d="M472.80,646.1 V651.6" stroke="#262626" stroke-width="1"/>
<path d="M498.85,646.1 V651.6" stroke="#262626" stroke-width="1"/>
<path d="M524.90,646.1 V651.6" stroke="#262626" stroke-width="1"/>
<path d="M550.95,646.1 V651.6" stroke="#262626" stroke-width="1"/>
<path d="M577.00,646.1 V651.6" stroke="#262626" stroke-width="1"/>
<path d="M603.05,646.1 V651.6" stroke="#262626" stroke-width="1"/>
<rect x="166.12" y="614.91" width="6.9" height="30.69" fill="#4c80bd"/>
<rect x="173.62" y="604.35" width="6.0" height="41.35" fill="#f79646" stroke="#cb2c22" stroke-width="1"/>
<path d="M169.47,612.40 V617.43 M167.17,612.40 h4.6 M167.17,617.43 h4.6" stroke="#4a4a4a" stroke-width="0.95" fill="none"/>
<path d="M176.62,598.32 V609.38 M174.32,598.32 h4.6 M174.32,609.38 h4.6" stroke="#4a4a4a" stroke-width="0.95" fill="none"/>
<text class="sans" x="176.82" y="600.82" font-size="21.4" fill="#2a2a2a" stroke="none" text-anchor="middle">**</text>
<text x="173.22" y="670.3" font-size="15.2" text-anchor="middle">Lys</text>
<rect x="192.17" y="617.93" width="6.9" height="27.67" fill="#4c80bd"/>
<rect x="199.67" y="607.37" width="6.0" height="38.33" fill="#f79646" stroke="#cb2c22" stroke-width="1"/>
<path d="M195.52,615.92 V619.94 M193.22,615.92 h4.6 M193.22,619.94 h4.6" stroke="#4a4a4a" stroke-width="0.95" fill="none"/>
<path d="M202.67,600.33 V613.40 M200.37,600.33 h4.6 M200.37,613.40 h4.6" stroke="#4a4a4a" stroke-width="0.95" fill="none"/>
<text class="sans" x="202.87" y="601.93" font-size="21.4" fill="#2a2a2a" stroke="none" text-anchor="middle">**</text>
<text x="199.27" y="670.3" font-size="15.2" text-anchor="middle">Thr</text>
<rect x="218.22" y="640.06" width="6.9" height="5.54" fill="#4c80bd"/>
<rect x="225.72" y="634.53" width="6.0" height="11.17" fill="#f79646" stroke="#cb2c22" stroke-width="1"/>
<path d="M221.57,635.03 V645.09 M219.27,635.03 h4.6 M219.27,645.09 h4.6" stroke="#4a4a4a" stroke-width="0.95" fill="none"/>
<path d="M228.72,626.99 V641.07 M226.42,626.99 h4.6 M226.42,641.07 h4.6" stroke="#4a4a4a" stroke-width="0.95" fill="none"/>
<text class="sans" x="228.92" y="627.09" font-size="21.4" fill="#2a2a2a" stroke="none" text-anchor="middle">*</text>
<text x="225.32" y="670.3" font-size="15.2" text-anchor="middle">Met</text>
<rect x="244.28" y="614.41" width="6.9" height="31.19" fill="#4c80bd"/>
<rect x="251.78" y="602.34" width="6.0" height="43.36" fill="#f79646" stroke="#cb2c22" stroke-width="1"/>
<path d="M247.62,611.90 V616.93 M245.32,611.90 h4.6 M245.32,616.93 h4.6" stroke="#4a4a4a" stroke-width="0.95" fill="none"/>
<path d="M254.78,596.30 V607.37 M252.47,596.30 h4.6 M252.47,607.37 h4.6" stroke="#4a4a4a" stroke-width="0.95" fill="none"/>
<text class="sans" x="254.97" y="597.70" font-size="21.4" fill="#2a2a2a" stroke="none" text-anchor="middle">**</text>
<text x="251.38" y="670.3" font-size="15.2" text-anchor="middle">Ile</text>
<rect x="270.32" y="599.82" width="6.9" height="45.78" fill="#4c80bd"/>
<rect x="277.82" y="582.72" width="6.0" height="62.98" fill="#f79646" stroke="#cb2c22" stroke-width="1"/>
<path d="M273.68,596.81 V602.84 M271.38,596.81 h4.6 M271.38,602.84 h4.6" stroke="#4a4a4a" stroke-width="0.95" fill="none"/>
<path d="M280.82,573.17 V591.27 M278.52,573.17 h4.6 M278.52,591.27 h4.6" stroke="#4a4a4a" stroke-width="0.95" fill="none"/>
<text class="sans" x="281.02" y="574.97" font-size="21.4" fill="#2a2a2a" stroke="none" text-anchor="middle">**</text>
<text x="277.43" y="670.3" font-size="15.2" text-anchor="middle">Val</text>
<rect x="296.38" y="577.69" width="6.9" height="67.91" fill="#4c80bd"/>
<rect x="303.88" y="549.02" width="6.0" height="96.68" fill="#f79646" stroke="#cb2c22" stroke-width="1"/>
<path d="M299.73,572.66 V582.72 M297.43,572.66 h4.6 M297.43,582.72 h4.6" stroke="#4a4a4a" stroke-width="0.95" fill="none"/>
<path d="M306.88,534.94 V562.10 M304.57,534.94 h4.6 M304.57,562.10 h4.6" stroke="#4a4a4a" stroke-width="0.95" fill="none"/>
<text class="sans" x="307.07" y="535.74" font-size="21.4" fill="#2a2a2a" stroke="none" text-anchor="middle">**</text>
<text x="303.48" y="670.3" font-size="15.2" text-anchor="middle">Leu</text>
<rect x="322.42" y="597.81" width="6.9" height="47.79" fill="#4c80bd"/>
<rect x="329.92" y="581.71" width="6.0" height="63.99" fill="#f79646" stroke="#cb2c22" stroke-width="1"/>
<path d="M325.77,597.31 V598.32 M323.47,597.31 h4.6 M323.47,598.32 h4.6" stroke="#4a4a4a" stroke-width="0.95" fill="none"/>
<path d="M332.92,573.16 V589.26 M330.62,573.16 h4.6 M330.62,589.26 h4.6" stroke="#4a4a4a" stroke-width="0.95" fill="none"/>
<text class="sans" x="333.12" y="573.66" font-size="21.4" fill="#2a2a2a" stroke="none" text-anchor="middle">**</text>
<text x="329.52" y="670.3" font-size="15.2" text-anchor="middle">Phe</text>
<rect x="348.47" y="626.99" width="6.9" height="18.61" fill="#4c80bd"/>
<rect x="355.97" y="619.44" width="6.0" height="26.26" fill="#f79646" stroke="#cb2c22" stroke-width="1"/>
<path d="M351.82,625.98 V627.99 M349.52,625.98 h4.6 M349.52,627.99 h4.6" stroke="#4a4a4a" stroke-width="0.95" fill="none"/>
<path d="M358.97,614.41 V623.47 M356.67,614.41 h4.6 M356.67,623.47 h4.6" stroke="#4a4a4a" stroke-width="0.95" fill="none"/>
<text class="sans" x="359.17" y="616.71" font-size="21.4" fill="#2a2a2a" stroke="none" text-anchor="middle">**</text>
<text x="355.57" y="670.3" font-size="15.2" text-anchor="middle">His</text>
<rect x="374.52" y="587.75" width="6.9" height="57.85" fill="#4c80bd"/>
<rect x="382.02" y="566.12" width="6.0" height="79.58" fill="#f79646" stroke="#cb2c22" stroke-width="1"/>
<path d="M377.88,584.73 V590.77 M375.57,584.73 h4.6 M375.57,590.77 h4.6" stroke="#4a4a4a" stroke-width="0.95" fill="none"/>
<path d="M385.02,550.53 V580.71 M382.72,550.53 h4.6 M382.72,580.71 h4.6" stroke="#4a4a4a" stroke-width="0.95" fill="none"/>
<text class="sans" x="385.22" y="552.23" font-size="21.4" fill="#2a2a2a" stroke="none" text-anchor="middle">**</text>
<text x="381.62" y="670.3" font-size="15.2" text-anchor="middle">Arg</text>
<rect x="400.57" y="629.00" width="6.9" height="16.60" fill="#4c80bd"/>
<rect x="408.07" y="621.45" width="6.0" height="24.25" fill="#f79646" stroke="#cb2c22" stroke-width="1"/>
<path d="M403.92,626.48 V631.51 M401.62,626.48 h4.6 M401.62,631.51 h4.6" stroke="#4a4a4a" stroke-width="0.95" fill="none"/>
<path d="M411.07,612.40 V629.50 M408.77,612.40 h4.6 M408.77,629.50 h4.6" stroke="#4a4a4a" stroke-width="0.95" fill="none"/>
<text class="sans" x="411.27" y="614.70" font-size="21.4" fill="#2a2a2a" stroke="none" text-anchor="middle">*</text>
<text x="407.67" y="670.3" font-size="15.2" text-anchor="middle">Cys</text>
<rect x="426.62" y="572.66" width="6.9" height="72.94" fill="#4c80bd"/>
<rect x="434.12" y="546.00" width="6.0" height="99.70" fill="#f79646" stroke="#cb2c22" stroke-width="1"/>
<path d="M429.98,570.65 V574.67 M427.68,570.65 h4.6 M427.68,574.67 h4.6" stroke="#4a4a4a" stroke-width="0.95" fill="none"/>
<path d="M437.12,531.42 V559.58 M434.82,531.42 h4.6 M434.82,559.58 h4.6" stroke="#4a4a4a" stroke-width="0.95" fill="none"/>
<text class="sans" x="437.32" y="531.92" font-size="21.4" fill="#2a2a2a" stroke="none" text-anchor="middle">**</text>
<text x="433.73" y="670.3" font-size="15.2" text-anchor="middle">Asp</text>
<rect x="452.67" y="604.35" width="6.9" height="41.25" fill="#4c80bd"/>
<rect x="460.17" y="588.25" width="6.0" height="57.45" fill="#f79646" stroke="#cb2c22" stroke-width="1"/>
<path d="M456.02,602.34 V606.36 M453.72,602.34 h4.6 M453.72,606.36 h4.6" stroke="#4a4a4a" stroke-width="0.95" fill="none"/>
<path d="M463.17,578.20 V597.31 M460.87,578.20 h4.6 M460.87,597.31 h4.6" stroke="#4a4a4a" stroke-width="0.95" fill="none"/>
<text class="sans" x="463.37" y="581.50" font-size="21.4" fill="#2a2a2a" stroke="none" text-anchor="middle">**</text>
<text x="459.77" y="670.3" font-size="15.2" text-anchor="middle">Ser</text>
<rect x="478.72" y="498.22" width="6.9" height="147.38" fill="#4c80bd"/>
<rect x="486.22" y="434.33" width="6.0" height="211.37" fill="#f79646" stroke="#cb2c22" stroke-width="1"/>
<path d="M482.07,489.16 V507.27 M479.77,489.16 h4.6 M479.77,507.27 h4.6" stroke="#4a4a4a" stroke-width="0.95" fill="none"/>
<path d="M489.22,421.26 V446.41 M486.92,421.26 h4.6 M486.92,446.41 h4.6" stroke="#4a4a4a" stroke-width="0.95" fill="none"/>
<text class="sans" x="489.42" y="423.86" font-size="21.4" fill="#2a2a2a" stroke="none" text-anchor="middle">**</text>
<text x="485.82" y="670.3" font-size="15.2" text-anchor="middle">Glu</text>
<rect x="504.77" y="608.88" width="6.9" height="36.72" fill="#4c80bd"/>
<rect x="512.27" y="596.30" width="6.0" height="49.40" fill="#f79646" stroke="#cb2c22" stroke-width="1"/>
<path d="M508.12,607.37 V610.39 M505.82,607.37 h4.6 M505.82,610.39 h4.6" stroke="#4a4a4a" stroke-width="0.95" fill="none"/>
<path d="M515.27,588.76 V602.84 M512.98,588.76 h4.6 M512.98,602.84 h4.6" stroke="#4a4a4a" stroke-width="0.95" fill="none"/>
<text class="sans" x="515.48" y="591.36" font-size="21.4" fill="#2a2a2a" stroke="none" text-anchor="middle">**</text>
<text x="511.88" y="670.3" font-size="15.2" text-anchor="middle">Gly</text>
<rect x="530.82" y="597.31" width="6.9" height="48.29" fill="#4c80bd"/>
<rect x="538.32" y="581.21" width="6.0" height="64.49" fill="#f79646" stroke="#cb2c22" stroke-width="1"/>
<path d="M534.17,595.30 V599.32 M531.88,595.30 h4.6 M531.88,599.32 h4.6" stroke="#4a4a4a" stroke-width="0.95" fill="none"/>
<path d="M541.32,571.66 V589.76 M539.02,571.66 h4.6 M539.02,589.76 h4.6" stroke="#4a4a4a" stroke-width="0.95" fill="none"/>
<text class="sans" x="541.52" y="573.56" font-size="21.4" fill="#2a2a2a" stroke="none" text-anchor="middle">**</text>
<text x="537.92" y="670.3" font-size="15.2" text-anchor="middle">Ala</text>
<rect x="556.88" y="615.92" width="6.9" height="29.68" fill="#4c80bd"/>
<rect x="564.38" y="614.91" width="6.0" height="30.79" fill="#f79646" stroke="#cb2c22" stroke-width="1"/>
<path d="M560.23,608.88 V622.96 M557.93,608.88 h4.6 M557.93,622.96 h4.6" stroke="#4a4a4a" stroke-width="0.95" fill="none"/>
<path d="M567.38,608.88 V619.94 M565.08,608.88 h4.6 M565.08,619.94 h4.6" stroke="#4a4a4a" stroke-width="0.95" fill="none"/>
<text x="563.98" y="670.3" font-size="15.2" text-anchor="middle">Tyr</text>
<rect x="582.92" y="616.93" width="6.9" height="28.67" fill="#4c80bd"/>
<rect x="590.42" y="608.88" width="6.0" height="36.83" fill="#f79646" stroke="#cb2c22" stroke-width="1"/>
<path d="M586.27,616.12 V617.73 M583.98,616.12 h4.6 M583.98,617.73 h4.6" stroke="#4a4a4a" stroke-width="0.95" fill="none"/>
<path d="M593.42,602.34 V614.41 M591.12,602.34 h4.6 M591.12,614.41 h4.6" stroke="#4a4a4a" stroke-width="0.95" fill="none"/>
<text class="sans" x="593.62" y="603.14" font-size="21.4" fill="#2a2a2a" stroke="none" text-anchor="middle">**</text>
<text x="590.02" y="670.3" font-size="15.2" text-anchor="middle">Pro</text>
<rect x="384.2" y="394.9" width="10.6" height="10.5" fill="#4c80bd"/>
<text class="sans" x="399.8" y="405.6" font-size="12.8" stroke="none">2x</text>
<rect x="426.1" y="395.1" width="9.8" height="9.8" fill="#f79646" stroke="#cf3f34" stroke-width="1.1"/>
<text class="sans" x="441.2" y="405.6" font-size="12.9" stroke="none">4x</text>
<text transform="translate(114.3,508.6) rotate(-90)" font-size="15" text-anchor="middle">Average amino acid content (%)</text>
</svg></body></html>
